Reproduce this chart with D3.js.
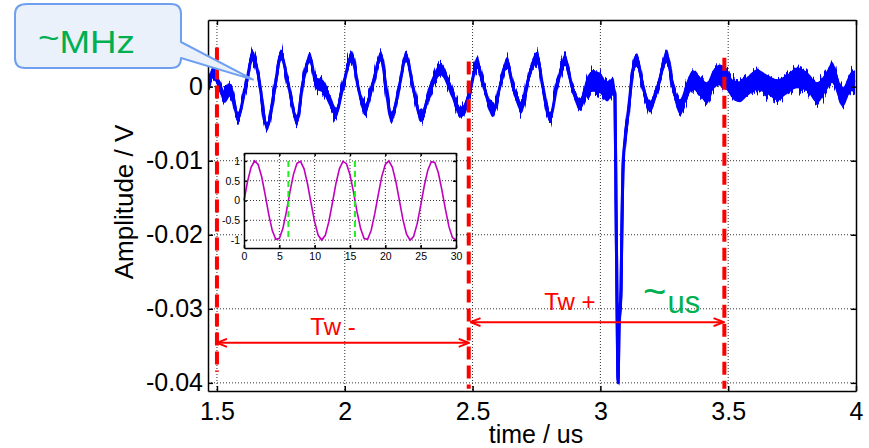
<!DOCTYPE html>
<html lang="en">
<head>
<meta charset="UTF-8">
<title>Amplitude vs time</title>
<script src="https://d3js.org/d3.v7.min.js"></script>
<style>
  body, html { margin: 0; padding: 0; background: #fff; }
  svg { display: block; font-family: "Liberation Sans", Arial, sans-serif; }
  .grid line { stroke: #333; stroke-width: 1; stroke-dasharray: 1,2; }
  .axis path, .axis line { stroke: #000; stroke-width: 1.5; }
  .axis text { font-size: 25px; fill: #000; font-family: "Liberation Sans", Arial, sans-serif; }
  .inset-axis path, .inset-axis line { stroke: #000; stroke-width: 1.5; }
  .inset-axis text { font-size: 10.5px; fill: #000; font-family: "Liberation Sans", Arial, sans-serif; }
</style>
</head>
<body>
<svg id="chart" width="869" height="448"></svg>
<script>
// measured signal: time (us), centre of the trace (mV), half-width of the noise band (mV)
const tUs = [1.465, 1.484, 1.512, 1.531, 1.555, 1.582, 1.610, 1.641, 1.660, 1.696,
  1.727, 1.750, 1.778, 1.813, 1.836, 1.864, 1.887, 1.915, 1.946, 1.966,
  1.993, 2.028, 2.052, 2.079, 2.110, 2.142, 2.161, 2.181, 2.216, 2.239,
  2.267, 2.298, 2.337, 2.376, 2.415, 2.455, 2.494, 2.517, 2.541, 2.580,
  2.607, 2.635, 2.658, 2.693, 2.717, 2.752, 2.775, 2.803, 2.830, 2.862,
  2.889, 2.920, 2.948, 2.971, 2.998, 3.026, 3.049, 3.057, 3.061, 3.065,
  3.069, 3.073, 3.081, 3.084, 3.088, 3.096, 3.104, 3.116, 3.127, 3.143,
  3.167, 3.194, 3.225, 3.260, 3.284, 3.311, 3.339, 3.362, 3.390, 3.417,
  3.441, 3.468, 3.495, 3.519, 3.546, 3.574, 3.613, 3.652, 3.691, 3.730,
  3.769, 3.808, 3.848, 3.887, 3.906, 3.949, 3.977, 3.996];
const vMilli = [-0.4, 1.9, 0, -1.4, -0.4, -4.1, -0.4, 4.1, 1.9, -5.4,
  0, 4.3, 0.5, -4.5, 0.5, 3.9, 0.5, 0, -2.2, -3.5,
  0, 4.1, 0, -3.1, 0.5, 4.1, 0, -4.2, 0.5, 4.1,
  0, -4.1, 0, 2.3, -0.4, -3.5, 0, 3.2, 0.5, -3.4,
  0, 3.2, 0, -2.8, 0.9, 3.9, 0, -4.1, 0, 3.6,
  0, -2.4, 0, 0.7, 0.5, -0.7, 0, -1.1, -15.3, -28.8,
  -40, -32.8, -27, -19.3, -11.6, -7.2, -4.9, -1.1, 2.3, 3.6,
  0, -2.7, 0, 4.1, 0, -2.7, -0.4, 0.9, 0, -0.8,
  0.9, 1.6, 0.9, -0.4, -0.7, 0, 0.9, 0.3, -0.4, 0.3,
  1.2, 0.7, -0.8, 0.9, 1.9, -1.4, 0.5, 0.9];
const noiseMilli = [0.8, 0.8, 0.8, 0.8, 0.8, 0.7, 0.6, 0.7, 0.7, 0.6,
  0.6, 0.7, 0.6, 0.7, 0.6, 0.7, 0.8, 0.9, 0.8, 0.7,
  0.6, 0.7, 0.6, 0.8, 0.6, 0.7, 0.6, 0.7, 0.6, 0.7,
  0.6, 0.7, 0.8, 0.8, 0.8, 0.7, 0.7, 0.8, 0.7, 0.7,
  0.6, 0.8, 0.7, 0.7, 0.7, 0.8, 0.7, 0.7, 0.6, 0.8,
  0.7, 0.8, 1.3, 1.4, 1.4, 1.3, 1.2, 0.6, 0.2, 0.2,
  0.1, 0.2, 0.3, 0.3, 0.4, 0.5, 0.6, 0.8, 0.9, 0.9,
  0.8, 0.8, 0.8, 0.9, 0.9, 1.0, 1.2, 1.3, 1.3, 1.4,
  1.3, 1.4, 1.4, 1.3, 1.4, 1.3, 1.4, 1.3, 1.4, 1.3,
  1.4, 1.3, 1.4, 1.3, 1.4, 1.3, 1.3, 1.3];

const xTicks = [1.5, 2, 2.5, 3, 3.5, 4];
const xTickLabels = ["1.5", "2", "2.5", "3", "3.5", "4"];
const yTicks = [0, -0.01, -0.02, -0.03, -0.04];
const yTickLabels = ["0", "-0.01", "-0.02", "-0.03", "-0.04"];

// window edges (red dashed) and the two spans
const edgeT = [1.5, 2.485, 3.485];
const edgeTop = [0.0053, 0.0034, 0.0039];
const edgeBottom = [-0.0385, -0.0408, -0.0408];
const spanLabels = ["Tw -", "Tw +"];
const spanFrom = [1.5, 2.492];
const spanTo = [2.485, 3.482];
const spanV = [-0.0346, -0.0318];

// inset: a sine sampled every 0.5
const insetT = [0, 0.5, 1, 1.5, 2, 2.5, 3, 3.5, 4, 4.5, 5, 5.5, 6, 6.5, 7, 7.5, 8, 8.5, 9, 9.5,
  10, 10.5, 11, 11.5, 12, 12.5, 13, 13.5, 14, 14.5, 15, 15.5, 16, 16.5, 17, 17.5, 18, 18.5, 19, 19.5,
  20, 20.5, 21, 21.5, 22, 22.5, 23, 23.5, 24, 24.5, 25, 25.5, 26, 26.5, 27, 27.5, 28, 28.5, 29, 29.5, 30];
const insetY = [0, 0.48, 0.84, 1.00, 0.91, 0.60, 0.14, -0.35, -0.76, -0.98,
  -0.96, -0.71, -0.28, 0.22, 0.66, 0.94, 0.99, 0.80, 0.41, -0.08,
  -0.54, -0.88, -1.00, -0.88, -0.54, -0.07, 0.42, 0.80, 0.99, 0.93,
  0.65, 0.21, -0.29, -0.71, -0.96, -0.98, -0.75, -0.34, 0.15, 0.61,
  0.91, 1.00, 0.84, 0.47, -0.01, -0.49, -0.85, -1.00, -0.91, -0.59,
  -0.13, 0.36, 0.76, 0.98, 0.96, 0.70, 0.27, -0.22, -0.66, -0.94, -0.99];
const insetXTicks = [0, 5, 10, 15, 20, 25, 30];
const insetYTicks = [1, 0.5, 0, -0.5, -1];
const insetYTickLabels = ["1", "0.5", "0", "-0.5", "-1"];
const insetMarks = [6.28, 15.7];

const svg = d3.select("#chart");
const plot = { left: 208, right: 856, top: 20, bottom: 391 };

const x = d3.scaleLinear().domain([1.465, 4]).range([plot.left, plot.right]);
const y = d3.scaleLinear().domain([-0.0411, 0.0090]).range([plot.bottom, plot.top]);

const defs = svg.append("defs");
defs.append("clipPath").attr("id", "plotClip")
  .append("rect")
  .attr("x", plot.left).attr("y", plot.top)
  .attr("width", plot.right - plot.left).attr("height", plot.bottom - plot.top);

defs.append("marker")
  .attr("id", "arrowRed")
  .attr("viewBox", "0 0 12 10")
  .attr("refX", 11).attr("refY", 5)
  .attr("markerWidth", 12).attr("markerHeight", 10)
  .attr("markerUnits", "userSpaceOnUse")
  .attr("orient", "auto-start-reverse")
  .append("path")
  .attr("d", "M1,1 L11,5 L1,9")
  .attr("fill", "none")
  .attr("stroke", "#ff0000")
  .attr("stroke-width", 2);

// scope-like fuzz on the trace: columns jittered vertically only
const rough = defs.append("filter")
  .attr("id", "rough")
  .attr("filterUnits", "userSpaceOnUse")
  .attr("x", 0).attr("y", 0).attr("width", 869).attr("height", 448);
rough.append("feTurbulence")
  .attr("type", "fractalNoise")
  .attr("baseFrequency", "0.45 0.015")
  .attr("numOctaves", 2)
  .attr("seed", 7)
  .attr("result", "n");
const ct = rough.append("feComponentTransfer").attr("in", "n").attr("result", "n2");
ct.append("feFuncR").attr("type", "linear").attr("slope", 0).attr("intercept", 0.5);
ct.append("feFuncG").attr("type", "linear").attr("slope", 1.6).attr("intercept", -0.3);
ct.append("feFuncA").attr("type", "linear").attr("slope", 0).attr("intercept", 1);
rough.append("feDisplacementMap")
  .attr("in", "SourceGraphic").attr("in2", "n2")
  .attr("scale", 16)
  .attr("xChannelSelector", "R").attr("yChannelSelector", "G")
  .attr("result", "d");
const fm = rough.append("feMerge");
fm.append("feMergeNode").attr("in", "d");
fm.append("feMergeNode").attr("in", "SourceGraphic");

// grid
const grid = svg.append("g").attr("class", "grid");
grid.selectAll(".gx").data(xTicks.filter(d => d < 4)).join("line")
  .attr("x1", d => x(d)).attr("x2", d => x(d))
  .attr("y1", plot.top).attr("y2", plot.bottom);
grid.selectAll(".gy").data(yTicks).join("line")
  .attr("x1", plot.left).attr("x2", plot.right)
  .attr("y1", d => y(d)).attr("y2", d => y(d));

// waveform
const wave = tUs.map((t, i) => ({ t: t, v: vMilli[i] / 1000, n: noiseMilli[i] / 1000 }));
const waveG = svg.append("g").attr("clip-path", "url(#plotClip)")
  .append("g").attr("filter", "url(#rough)");
waveG.append("path")
  .datum(wave)
  .attr("d", d3.area()
    .x(d => x(d.t))
    .y0(d => y(d.v - d.n))
    .y1(d => y(d.v + d.n))
    .curve(d3.curveMonotoneX))
  .attr("fill", "#0000ff");
waveG.append("path")
  .datum(wave)
  .attr("d", d3.line()
    .x(d => x(d.t))
    .y(d => y(d.v))
    .curve(d3.curveMonotoneX))
  .attr("fill", "none")
  .attr("stroke", "#0000ff")
  .attr("stroke-width", 3)
  .attr("stroke-linejoin", "round");

// red window edges
svg.append("g").selectAll("line").data(edgeT).join("line")
  .attr("x1", d => x(d)).attr("x2", d => x(d))
  .attr("y1", (d, i) => y(edgeTop[i]))
  .attr("y2", (d, i) => y(edgeBottom[i]))
  .attr("stroke", "#ff0000")
  .attr("stroke-width", 4)
  .attr("stroke-dasharray", "13,6");

// inset
const inset = { left: 244, right: 456, top: 153, bottom: 248 };
const ix = d3.scaleLinear().domain([0, 30]).range([inset.left, inset.right]);
const iy = d3.scaleLinear().domain([-1.2, 1.2]).range([inset.bottom, inset.top]);
const insetG = svg.append("g");
insetG.append("rect")
  .attr("x", inset.left).attr("y", inset.top)
  .attr("width", inset.right - inset.left).attr("height", inset.bottom - inset.top)
  .attr("fill", "#fff");
const igrid = insetG.append("g").attr("class", "grid");
igrid.selectAll(".ix").data(insetXTicks.slice(1, -1)).join("line")
  .attr("x1", d => ix(d)).attr("x2", d => ix(d))
  .attr("y1", inset.top).attr("y2", inset.bottom);
igrid.selectAll(".iy").data(insetYTicks).join("line")
  .attr("x1", inset.left).attr("x2", inset.right)
  .attr("y1", d => iy(d)).attr("y2", d => iy(d));
insetG.append("path")
  .datum(insetT.map((t, i) => [t, insetY[i]]))
  .attr("d", d3.line().x(d => ix(d[0])).y(d => iy(d[1])))
  .attr("fill", "none")
  .attr("stroke", "#bf00bf")
  .attr("stroke-width", 1.6);
insetG.selectAll(".mark").data(insetMarks).join("line")
  .attr("x1", d => ix(d)).attr("x2", d => ix(d))
  .attr("y1", iy(1)).attr("y2", iy(-1))
  .attr("stroke", "#22ee22")
  .attr("stroke-width", 2)
  .attr("stroke-dasharray", "6,4");
insetG.append("g").attr("class", "inset-axis")
  .attr("transform", `translate(0,${inset.bottom})`)
  .call(d3.axisBottom(ix).tickValues(insetXTicks).tickSize(-3).tickSizeOuter(0).tickPadding(5));
insetG.append("g").attr("class", "inset-axis")
  .attr("transform", `translate(${inset.left},0)`)
  .call(d3.axisLeft(iy).tickValues(insetYTicks).tickFormat((d, i) => insetYTickLabels[i])
    .tickSize(-3).tickSizeOuter(0).tickPadding(4));
insetG.append("g").attr("class", "inset-axis")
  .attr("transform", `translate(0,${inset.top})`)
  .call(d3.axisTop(ix).tickValues(insetXTicks).tickSize(-3).tickSizeOuter(0).tickFormat(""));
insetG.append("g").attr("class", "inset-axis")
  .attr("transform", `translate(${inset.right},0)`)
  .call(d3.axisRight(iy).tickValues(insetYTicks).tickSize(-3).tickSizeOuter(0).tickFormat(""));

// span arrows and labels
svg.append("g").selectAll("line").data(spanFrom).join("line")
  .attr("x1", d => x(d)).attr("x2", (d, i) => x(spanTo[i]))
  .attr("y1", (d, i) => y(spanV[i])).attr("y2", (d, i) => y(spanV[i]))
  .attr("stroke", "#ff0000")
  .attr("stroke-width", 2)
  .attr("marker-start", "url(#arrowRed)")
  .attr("marker-end", "url(#arrowRed)");

svg.append("text")
  .attr("x", x(1.954)).attr("y", y(-0.0335))
  .attr("text-anchor", "middle")
  .attr("fill", "#ff0000")
  .style("font-size", "24px")
  .text(spanLabels[0]);
svg.append("text")
  .attr("x", x(2.881)).attr("y", y(-0.0301))
  .attr("text-anchor", "middle")
  .attr("fill", "#ff0000")
  .style("font-size", "24px")
  .text(spanLabels[1]);

const us = svg.append("text")
  .attr("x", x(3.167)).attr("y", y(-0.0305))
  .attr("fill", "#00b050")
  .style("font-size", "31px");
us.append("tspan").attr("dy", -8).style("font-size", "40px").text("~");
us.append("tspan").attr("dy", 8).attr("dx", 1).text("us");

// axes (box)
svg.append("g").attr("class", "axis")
  .attr("transform", `translate(0,${plot.bottom})`)
  .call(d3.axisBottom(x).tickValues(xTicks).tickFormat((d, i) => xTickLabels[i])
    .tickSize(-5).tickSizeOuter(0).tickPadding(11));
svg.append("g").attr("class", "axis")
  .attr("transform", `translate(${plot.left},0)`)
  .call(d3.axisLeft(y).tickValues(yTicks).tickFormat((d, i) => yTickLabels[i])
    .tickSize(-5).tickSizeOuter(0).tickPadding(5));
svg.append("g").attr("class", "axis")
  .attr("transform", `translate(0,${plot.top})`)
  .call(d3.axisTop(x).tickValues(xTicks).tickSize(-5).tickSizeOuter(0).tickFormat(""));
svg.append("g").attr("class", "axis")
  .attr("transform", `translate(${plot.right},0)`)
  .call(d3.axisRight(y).tickValues(yTicks).tickSize(-5).tickSizeOuter(0).tickFormat(""));

svg.append("text")
  .attr("x", (plot.left + plot.right) / 2 + 4).attr("y", 443)
  .attr("text-anchor", "middle")
  .style("font-size", "25px")
  .text("time / us");
svg.append("text")
  .attr("transform", "translate(133,202) rotate(-90)")
  .attr("text-anchor", "middle")
  .style("font-size", "26px")
  .text("Amplitude / V");

// callout
const tipX = x(1.641), tipY = y(0.00095);
svg.append("path")
  .attr("d", `M27,4 H171 Q181,4 181,14 V42 L${tipX},${tipY} L181,58 Q181,68 171,68 H25 Q15,68 15,58 V14 Q15,4 27,4 Z`)
  .attr("fill", "#eaf1fb")
  .attr("stroke", "#6fa0f0")
  .attr("stroke-width", 2)
  .attr("stroke-linejoin", "round");
const mhz = svg.append("text")
  .attr("x", 38).attr("y", 53)
  .attr("fill", "#00b050")
  .attr("textLength", 97)
  .attr("lengthAdjust", "spacingAndGlyphs")
  .style("font-size", "31px");
mhz.append("tspan").attr("dy", -4).text("~");
mhz.append("tspan").attr("dy", 4).text("MHz");
</script>
</body>
</html>
